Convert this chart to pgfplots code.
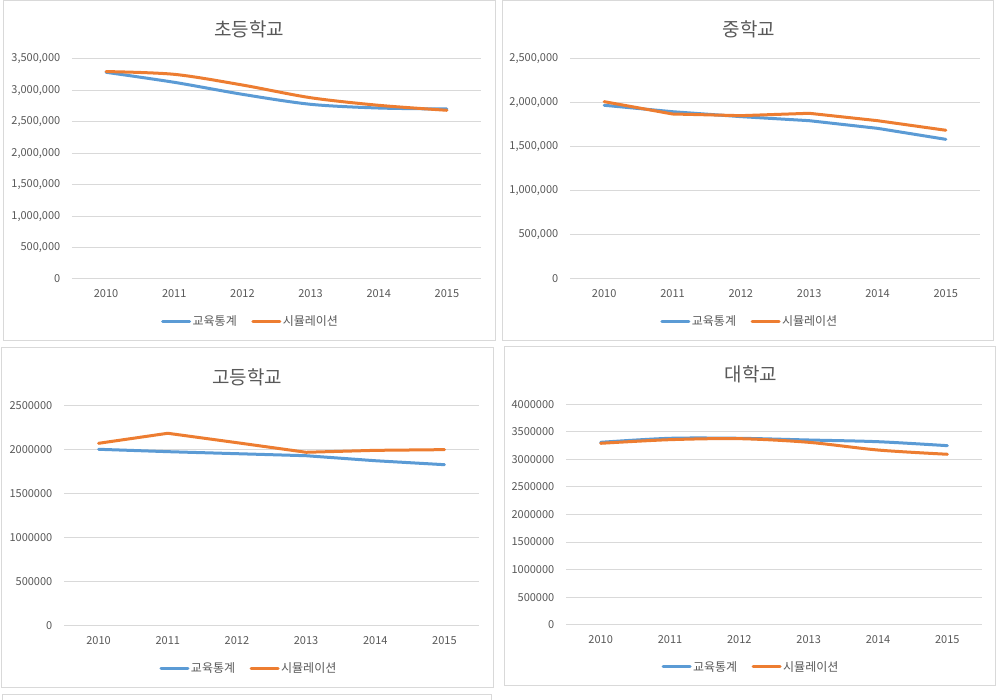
\documentclass[border=0pt]{standalone}
\usepackage{fontspec}
\setmainfont{Noto Sans CJK KR}
\usepackage{pgfplots}
\pgfplotsset{compat=1.18}
\definecolor{blueS}{HTML}{5B9BD5}
\definecolor{orangeS}{HTML}{ED7D31}
\definecolor{gridc}{HTML}{D9D9D9}
\definecolor{txt}{HTML}{595959}
\pgfplotsset{
  chartbase/.style={
    scale only axis, anchor=south west, clip=false,
    xmin=-0.5, xmax=5.5, ymin=0,
    xtick={0,1,2,3,4,5}, xticklabels={2010,2011,2012,2013,2014,2015},
    axis line style={draw=none}, major tick length=0pt, tick style={draw=none},
    ymajorgrids, grid style={gridc, line width=1pt},
    tick label style={font=\fontsize{11}{13}\selectfont, text=txt},
    yticklabel style={anchor=east, inner sep=0pt, xshift=-11.5pt},
    xticklabel style={anchor=center, inner sep=0pt, yshift=-15pt},
    scaled y ticks=false,
    /pgf/number format/assume math mode=true,
    legend columns=2,
    legend style={draw=none, fill=none, font=\fontsize{12}{14}\selectfont, text=txt, anchor=center,
      /tikz/every even column/.append style={column sep=13pt},
      nodes={inner sep=1.5pt}},
    legend image code/.code={\draw[##1, line width=3pt, line cap=round] (0pt,0pt) -- (27pt,0pt);},
  },
  sblue/.style={blueS, line width=3pt, line cap=round, line join=round},
  sorange/.style={orangeS, line width=3pt, line cap=round, line join=round},
}
\begin{document}
\begin{tikzpicture}
\useasboundingbox (0pt,0pt) rectangle (996pt,700pt);
\fill[white] (0pt,0pt) rectangle (996pt,700pt);
% boxes
\begin{scope}[gridc, line width=1pt]
\draw (3.5pt,359.7pt) rectangle (495.3pt,699pt);
\draw (502.3pt,359.7pt) rectangle (993.5pt,699pt);
\draw (1.8pt,12.7pt) rectangle (493.3pt,352.7pt);
\draw (504.3pt,14pt) rectangle (995pt,353.7pt);
\draw (2.5pt,-2pt) -- (2.5pt,5.7pt) -- (491.3pt,5.7pt) -- (491.3pt,-2pt);
\end{scope}
% titles
\begin{scope}[every node/.style={font=\fontsize{19}{22}\selectfont, text=txt}]
\node at (249pt,671pt) {초등학교};
\node at (749pt,671pt) {중학교};
\node at (247pt,323pt) {고등학교};
\node at (751pt,326pt) {대학교};
\end{scope}
% chart 1
\begin{axis}[chartbase, at={(72pt,421pt)}, width=409pt, height=220pt, ymax=3500000,
  ytick={0,500000,1000000,1500000,2000000,2500000,3000000,3500000},
  yticklabel style={/pgf/number format/.cd, fixed, 1000 sep={,}},
  legend style={at={(axis description cs:0.436,-0.194)}}]
\addplot[sblue, smooth, tension=0.5] coordinates {(0,3288000) (1,3129000) (2,2938000) (3,2779000) (4,2720000) (5,2705000)};
\addplot[sorange, smooth, tension=0.5] coordinates {(0,3300000) (1,3256000) (2,3086000) (3,2884000) (4,2763000) (5,2684000)};
\legend{교육통계,시뮬레이션}
\end{axis}
% chart 2
\begin{axis}[chartbase, at={(570pt,421pt)}, width=410pt, height=220pt, ymax=2500000,
  ytick={0,500000,1000000,1500000,2000000,2500000},
  yticklabel style={/pgf/number format/.cd, fixed, 1000 sep={,}},
  legend style={at={(axis description cs:0.438,-0.191)}}]
\addplot[sblue] coordinates {(0,1974000) (1,1901000) (2,1845000) (3,1799000) (4,1712000) (5,1587000)};
\addplot[sorange] coordinates {(0,2015000) (1,1875000) (2,1856000) (3,1883000) (4,1799000) (5,1690000)};
\legend{교육통계,시뮬레이션}
\end{axis}
% chart 3
\begin{axis}[chartbase, at={(64pt,74pt)}, width=415pt, height=220pt, ymax=2500000,
  ytick={0,500000,1000000,1500000,2000000,2500000},
  yticklabel style={/pgf/number format/.cd, fixed, 1000 sep={}},
  legend style={at={(axis description cs:0.445,-0.192)}}]
\addplot[sblue] coordinates {(0,2008000) (1,1981000) (2,1958000) (3,1935000) (4,1878000) (5,1833000)};
\addplot[sorange] coordinates {(0,2076000) (1,2190000) (2,2083000) (3,1974000) (4,1996000) (5,2004000)};
\legend{교육통계,시뮬레이션}
\end{axis}
% chart 4
\begin{axis}[chartbase, at={(566pt,75.3pt)}, width=416pt, height=220.4pt, ymax=4000000,
  ytick={0,500000,1000000,1500000,2000000,2500000,3000000,3500000,4000000},
  yticklabel style={/pgf/number format/.cd, fixed, 1000 sep={}},
  legend style={at={(axis description cs:0.444,-0.191)}}]
\addplot[sblue, smooth, tension=0.5] coordinates {(0,3310000) (1,3383000) (2,3383000) (3,3352000) (4,3321000) (5,3249000)};
\addplot[sorange, smooth, tension=0.5] coordinates {(0,3292000) (1,3358000) (2,3376000) (3,3310000) (4,3170000) (5,3093000)};
\legend{교육통계,시뮬레이션}
\end{axis}
\end{tikzpicture}
\end{document}
